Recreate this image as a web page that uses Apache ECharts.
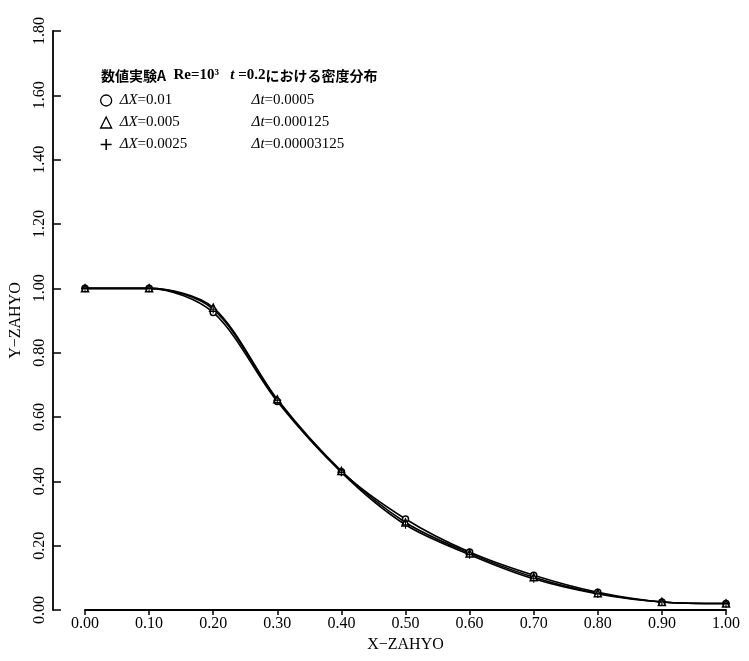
<!DOCTYPE html>
<html><head><meta charset="utf-8">
<script src="https://cdn.jsdelivr.net/npm/echarts@6/dist/echarts.min.js"></script>
<style>html,body{margin:0;padding:0;background:#fff}#c{width:749px;height:661px}</style>
</head><body><div id="c"></div>
<script>
const xValues = [0.0, 0.1, 0.2, 0.3, 0.4, 0.5, 0.6, 0.7, 0.8, 0.9, 1.0];
const seriesCircle   = [1.000, 1.000, 0.925, 0.648, 0.430, 0.283, 0.180, 0.108, 0.055, 0.025, 0.020];
const seriesTriangle = [1.000, 1.000, 0.940, 0.655, 0.432, 0.272, 0.176, 0.102, 0.052, 0.025, 0.020];
const seriesPlus     = [1.000, 1.000, 0.935, 0.652, 0.428, 0.265, 0.172, 0.097, 0.050, 0.025, 0.020];
const legendDX = ['0.01', '0.005', '0.0025'];
const legendDt = ['0.0005', '0.000125', '0.00003125'];
const seriesNames = ['circle', 'triangle', 'plus'];
const titleParts = ['数値実験A', 'Re=10³', '0.2', 'における密度分布'];
const xAxisName = 'X−ZAHYO';
const yAxisName = 'Y−ZAHYO';

const SERIF = '"Liberation Serif", "DejaVu Serif", serif';
const CJK = '"Noto Sans CJK JP", sans-serif';
const plusPath = 'path://M4.3,0H5.7V4.3H10V5.7H5.7V10H4.3V5.7H0V4.3H4.3Z';
const symbols = ['circle', 'triangle', plusPath];
const symbolSizes = [6, 7, 8];
const fills = ['#fff', '#fff', '#000'];
const allData = [seriesCircle, seriesTriangle, seriesPlus];

const chart = echarts.init(document.getElementById('c'), null, {renderer: 'canvas'});
chart.setOption({
  backgroundColor: '#fff',
  animation: false,
  title: {
    left: 96, top: 63,
    text: '{c|' + titleParts[0] + '}{s|  ' + titleParts[1] + '   }{i|t}{s| =' + titleParts[2] + '}{c|' + titleParts[3] + '}',
    textStyle: {
      rich: {
        c: {fontFamily: CJK, fontSize: 14, fontWeight: 'bold', color: '#000'},
        s: {fontFamily: SERIF, fontSize: 15, fontWeight: 'bold', color: '#000'},
        i: {fontFamily: SERIF, fontSize: 15, fontStyle: 'italic', color: '#000'}
      }
    }
  },
  legend: {
    orient: 'vertical',
    left: 95, top: 88,
    itemWidth: 11, itemHeight: 11, itemGap: 7,
    data: seriesNames.map((n, k) => ({
      name: n, icon: symbols[k],
      itemStyle: {color: fills[k], borderColor: '#000', borderWidth: k === 2 ? 0 : 1.3}
    })),
    formatter: function (name) {
      const k = seriesNames.indexOf(name);
      return '{i|ΔX}{v|=' + legendDX[k] + '}{i|Δt}{w|=' + legendDt[k] + '}';
    },
    textStyle: {
      padding: [0, 0, 0, 3],
      rich: {
        i: {fontFamily: SERIF, fontSize: 15, fontStyle: 'italic', color: '#000'},
        v: {fontFamily: SERIF, fontSize: 15, color: '#000', width: 114},
        w: {fontFamily: SERIF, fontSize: 15, color: '#000'}
      }
    }
  },
  grid: {left: 85, right: 23, top: 31, bottom: 51, containLabel: false},
  xAxis: {
    type: 'value', min: 0, max: 1, interval: 0.1,
    name: xAxisName, nameLocation: 'middle', nameGap: 27,
    nameTextStyle: {fontFamily: SERIF, fontSize: 16, color: '#000'},
    axisLine: {show: true, onZero: false, lineStyle: {color: '#000', width: 1.8}},
    axisTick: {show: true, inside: false, length: 5, lineStyle: {color: '#000', width: 1.5}},
    axisLabel: {fontFamily: SERIF, fontSize: 16, color: '#000', margin: 6,
      formatter: v => v.toFixed(2)},
    splitLine: {show: false}
  },
  yAxis: {
    type: 'value', min: 0, max: 1.8, interval: 0.2, offset: 32,
    name: yAxisName, nameLocation: 'middle', nameGap: 27, nameRotate: 90,
    nameTextStyle: {fontFamily: SERIF, fontSize: 16, color: '#000'},
    axisLine: {show: true, onZero: false, lineStyle: {color: '#000', width: 1.8}},
    axisTick: {show: true, inside: true, length: 8, lineStyle: {color: '#000', width: 1.5}},
    axisLabel: {fontFamily: SERIF, fontSize: 16, color: '#000', margin: 5, rotate: 90,
      formatter: v => v.toFixed(2)},
    splitLine: {show: false}
  },
  series: seriesNames.map((n, k) => ({
    name: n, type: 'line',
    data: xValues.map((x, j) => [x, allData[k][j]]),
    smooth: 0.3,
    symbol: symbols[k], symbolSize: symbolSizes[k], showSymbol: true,
    lineStyle: {color: '#000', width: 1.6},
    itemStyle: {color: fills[k], borderColor: '#000', borderWidth: k === 2 ? 0 : 1.5}
  }))
});
</script>
</body></html>
